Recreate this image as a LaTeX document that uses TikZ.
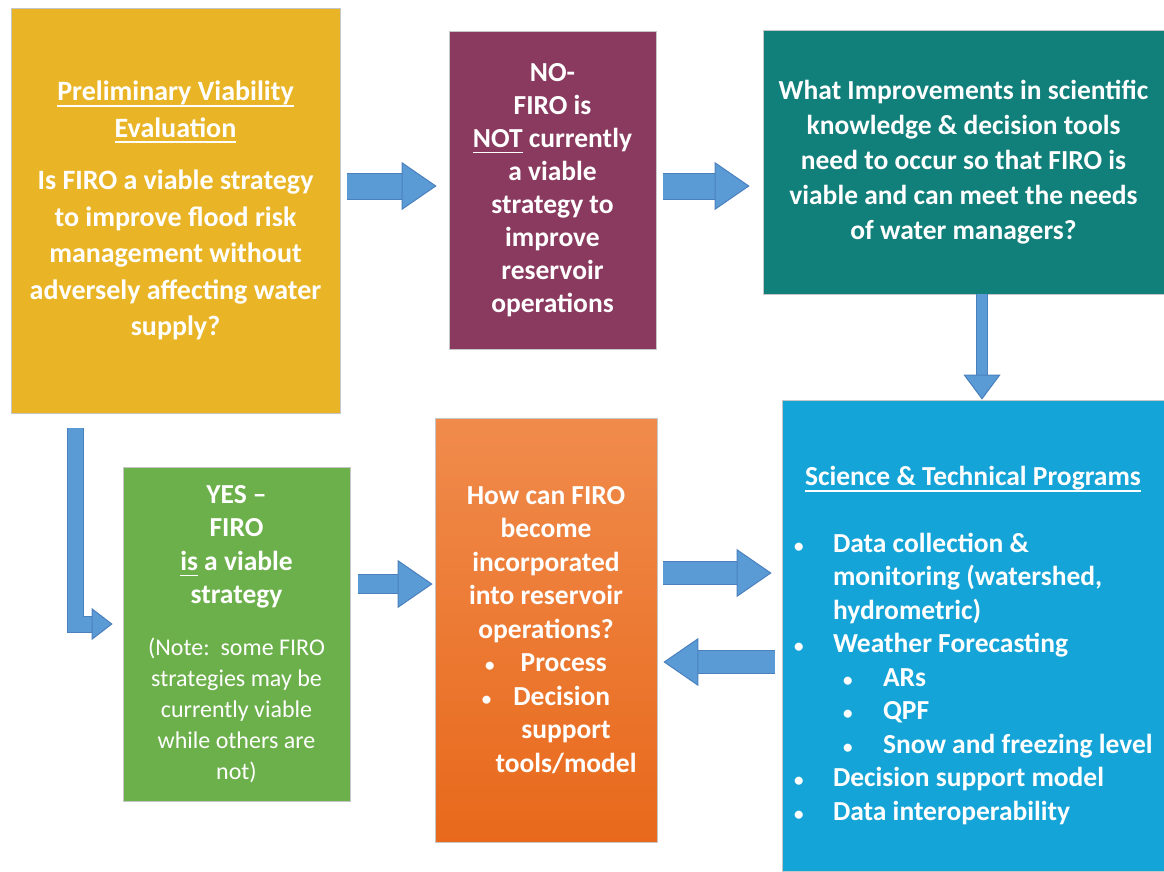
\documentclass[tikz,border=0pt]{standalone}
\usepackage{fontspec}
\setmainfont{Carlito}
\usepackage{tikz}
\usetikzlibrary{arrows.meta,positioning,calc}
\definecolor{firoyel}{HTML}{E9B526}
\definecolor{firopur}{HTML}{8A3A5E}
\definecolor{firoteal}{HTML}{11807A}
\definecolor{firocyan}{HTML}{15A4D7}
\definecolor{firogrn}{HTML}{6CB04B}
\definecolor{orgtop}{HTML}{F08B4C}
\definecolor{orgbot}{HTML}{E8691B}
\definecolor{arrblue}{HTML}{5B9BD5}
\definecolor{arrout}{HTML}{4A80BE}
\newcommand{\uln}[1]{\leavevmode\setbox0=\hbox{#1}\rlap{\rule[-6pt]{\wd0}{1.8pt}}\box0\relax}
\newcommand{\sbul}{{\fontsize{19}{19}\selectfont\textbullet}}
\newcommand{\blt}{\hspace*{21pt}\makebox[39pt][l]{\sbul}}
\newcommand{\ind}{\hspace*{60pt}}
\newcommand{\sblt}{\hspace*{70pt}\makebox[40pt][l]{\sbul}}

\begin{document}
\begin{tikzpicture}[
      x=1pt, y=-1pt,
      fbox/.style={
        draw=gray!45,
        line width=0.8pt,
        text=white,
        align=center,
        inner sep=0pt,
        font=\bfseries\fontsize{27.5}{33.5}\selectfont
      },
      barr/.style={
        draw=arrout,
        double=arrblue,
        line width=1pt,
        double distance=22pt,
        -{Triangle[length=35pt 0 0,width=48pt 0 0,line width=1pt 0 0,fill=arrblue]}
      }
    ]

    \path[use as bounding box, fill=white] (0,0) rectangle (1164,871);

    \node[fbox, fill=firoyel, minimum width=329pt, minimum height=405pt,
      font=\bfseries\fontsize{28}{36.5}\selectfont] (prelim) at (175.5,210.5)
      {\uln{Preliminary Viability}\\\uln{Evaluation}\\[16pt]
       Is FIRO a viable strategy\\to improve flood risk\\management without\\
       adversely affecting water\\supply?};

    \node[fbox, fill=firopur, minimum width=207pt, minimum height=318pt,
      font=\bfseries\fontsize{27.5}{33}\selectfont] (nofiro) at (552.5,190)
      {NO-\\FIRO is\\\uln{NOT} currently\\a viable\\strategy to\\improve\\reservoir\\operations};

    \node[fbox, fill=firoteal, minimum width=401pt, minimum height=264pt,
      font=\bfseries\fontsize{27.5}{35}\selectfont] (improve) at (963.5,162)
      {What Improvements in scientific\\knowledge \& decision tools\\need to occur so that FIRO is\\
       viable and can meet the needs\\of water managers?};

    \node[fbox, fill=firogrn, minimum width=227pt, minimum height=334pt] (yes) at (236.5,634)
      {YES --\\FIRO\\\uln{is} a viable\\strategy\\[18pt]
       \parbox[t]{224pt}{\centering\mdseries\fontsize{24}{31}\selectfont
       (Note:\ \ some FIRO\\strategies may be\\currently viable\\while others are\\not)}};

    \node[fbox, top color=orgtop, bottom color=orgbot, minimum width=222pt, minimum height=424pt] (incorp) at (546,630)
      {How can FIRO\\become\\incorporated\\into reservoir\\operations?\\
       \sbul\hspace{26pt}Process\\\sbul\hspace{22pt}Decision\\
       \hspace{40pt}support\\\hspace{40pt}tools/model};

    \node[fbox, fill=firocyan, minimum width=382pt, minimum height=471pt] (sci) at (973,635.5)
      {\makebox[380pt][c]{\begin{minipage}{400pt}
       \vspace*{20pt}
       \centering\uln{Science \& Technical Programs}\par
       \vspace{33pt}
       \raggedright
       \blt Data collection \&\\
       \ind monitoring (watershed,\\
       \ind hydrometric)\\
       \blt Weather Forecasting\\
       \sblt ARs\\
       \sblt QPF\\
       \sblt Snow and freezing level\\
       \blt Decision support model\\
       \blt Data interoperability
       \end{minipage}}};

    \draw[barr, double distance=25pt, shorten <=7pt, shorten >=12pt]
      ([yshift=4pt]prelim.east |- nofiro.west) -- ([yshift=4pt]nofiro.west);
    \draw[barr, double distance=25pt, shorten <=7pt, shorten >=13pt]
      ([yshift=4pt]nofiro.east) -- ([yshift=4pt]nofiro.east -| improve.west);
    \draw[barr, double distance=10pt,
      -{Triangle[length=25pt 0 0,width=37pt 0 0,line width=1pt 0 0,fill=arrblue]}]
      ([xshift=9pt]sci.north |- improve.south) -- ([xshift=9pt]sci.north);
    \draw[barr, double distance=15pt, shorten >=10pt,
      -{Triangle[length=21pt 0 0,width=32pt 0 0,line width=1pt 0 0,fill=arrblue]}]
      ([xshift=65pt,yshift=-15pt]prelim.south west) |- ([yshift=10pt]yes.west);
    \draw[barr, double distance=18pt, shorten <=8pt, shorten >=2pt]
      ([yshift=50pt]yes.east) -- ([yshift=50pt]yes.east -| incorp.west);
    \draw[barr, shorten <=6pt, shorten >=10pt]
      ([yshift=57pt]incorp.east) -- ([yshift=57pt]incorp.east -| sci.west);
    \draw[barr, shorten <=7pt, shorten >=6pt]
      ([yshift=-32pt]incorp.east -| sci.west) -- ([yshift=-32pt]incorp.east);

  \end{tikzpicture}
\end{document}
